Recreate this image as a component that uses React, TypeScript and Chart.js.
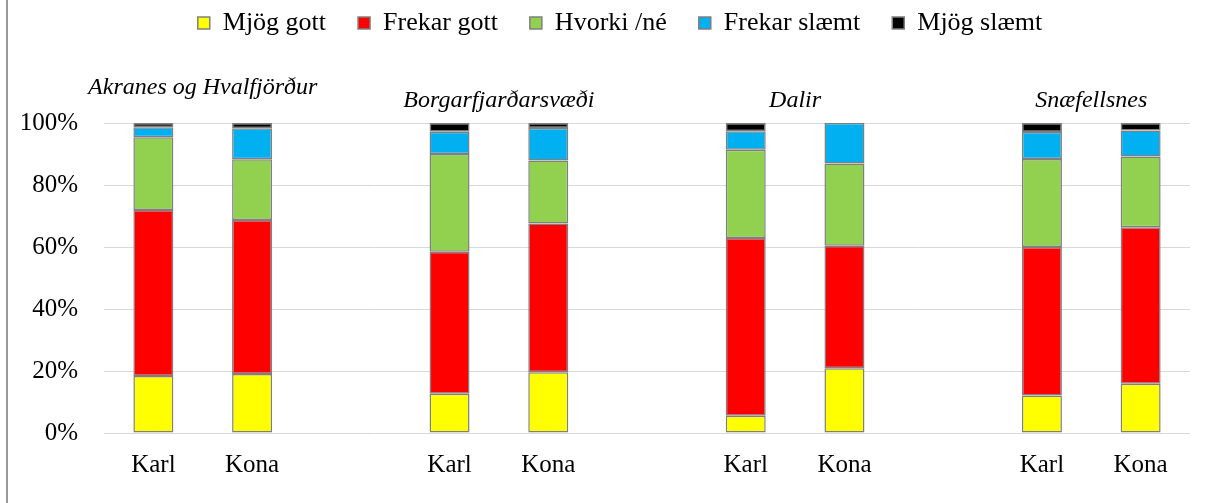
import React, { useEffect, useRef } from 'react';
import { Chart, registerables } from 'chart.js';
Chart.register(...registerables);

const categories = ['Karl', 'Kona', '', 'Karl', 'Kona', '', 'Karl', 'Kona', '', 'Karl', 'Kona'];
const groupTitles = ['Akranes og Hvalfjörður', 'Borgarfjarðarsvæði', 'Dalir', 'Snæfellsnes'];
const groupStartIndex = [0, 3, 6, 9];
const seriesNames = ['Mjög gott', 'Frekar gott', 'Hvorki /né', 'Frekar slæmt', 'Mjög slæmt'];
const mjogGott = [18.4, 19.0, null, 12.7, 19.6, null, 5.6, 20.9, null, 12.1, 15.9];
const frekarGott = [53.5, 49.7, null, 45.8, 48.0, null, 57.3, 39.5, null, 47.9, 50.5];
const hvorki = [23.5, 19.6, null, 31.5, 20.3, null, 28.5, 26.5, null, 28.4, 22.8];
const frekarSlaemt = [3.2, 10.0, null, 7.2, 10.5, null, 5.9, 13.1, null, 8.7, 8.4];
const mjogSlaemt = [1.4, 1.7, null, 2.8, 1.6, null, 2.7, 0, null, 2.9, 2.4];
const yTicks = [0, 20, 40, 60, 80, 100];

const seriesValues = [mjogGott, frekarGott, hvorki, frekarSlaemt, mjogSlaemt];
const seriesColors = ['#FFFF00', '#FF0000', '#92D050', '#00B0F0', '#000000'];
const FONT = "'Liberation Serif', 'Times New Roman', serif";
const LEGEND_SHIFT_X = 25;

const legendShiftPlugin = {
  id: 'legendShift',
  afterLayout(chart: any) {
    if (chart.legend) {
      chart.legend.left += LEGEND_SHIFT_X;
      chart.legend.right += LEGEND_SHIFT_X;
    }
  },
};

const groupTitlePlugin = {
  id: 'groupTitles',
  afterDraw(chart: any) {
    const { ctx } = chart;
    const x = chart.scales.x;
    ctx.save();
    ctx.font = `italic 24px ${FONT}`;
    ctx.fillStyle = '#000';
    ctx.textAlign = 'center';
    ctx.textBaseline = 'middle';
    groupTitles.forEach((t, i) => {
      const px = x.getPixelForValue(groupStartIndex[i] + 0.5);
      const py = i === 0 ? 88 : 101;
      ctx.fillText(t, px, py);
    });
    ctx.restore();
  },
};

export default function App() {
  const ref = useRef<HTMLCanvasElement>(null);
  useEffect(() => {
    if (!ref.current) return;
    const chart = new Chart(ref.current, {
      type: 'bar',
      data: {
        labels: categories,
        datasets: seriesNames.map((name, i) => ({
          label: name,
          data: seriesValues[i],
          backgroundColor: seriesColors[i],
          borderColor: '#7f7f7f',
          borderWidth: 1.5,
          borderSkipped: false,
          barPercentage: 0.405,
          categoryPercentage: 1,
        })),
      },
      options: {
        responsive: false,
        animation: false,
        devicePixelRatio: 1,
        layout: { padding: { left: 0, right: 16, top: -22, bottom: 0 } },
        plugins: {
          tooltip: { enabled: false },
          legend: {
            position: 'top',
            weight: 1000,
            labels: {
              boxWidth: 12,
              boxHeight: 12,
              padding: 32,
              color: '#000',
              font: { family: FONT, size: 26 },
            },
          },
          title: {
            display: true,
            text: '',
            weight: 500,
            font: { size: 10, lineHeight: 1 },
            padding: { top: 67, bottom: 0 },
          },
        },
        scales: {
          x: {
            stacked: true,
            grid: { display: false, drawTicks: false },
            border: { display: false },
            ticks: {
              color: '#000',
              font: { family: FONT, size: 25 },
              padding: 17,
              autoSkip: false,
              maxRotation: 0,
            },
            afterFit: (s: any) => {
              s.height = 70;
            },
          },
          y: {
            stacked: true,
            min: 0,
            max: 100,
            grid: { color: '#d9d9d9', lineWidth: 1, drawTicks: false },
            border: { display: false },
            afterBuildTicks: (s: any) => {
              s.ticks = yTicks.map((v) => ({ value: v }));
            },
            ticks: {
              color: '#000',
              font: { family: FONT, size: 25 },
              padding: 26,
              callback: (v: any) => `${v}%`,
            },
            afterFit: (s: any) => {
              s.width = 104;
            },
          },
        },
      },
      plugins: [legendShiftPlugin, groupTitlePlugin],
    } as any);
    return () => chart.destroy();
  }, []);
  return (
    <div style={{ position: 'absolute', left: 0, top: 0, width: 1206, height: 503, background: '#fff' }}>
      <div style={{ position: 'absolute', left: 6, top: 0, width: 2, height: 503, background: '#999' }} />
      <canvas ref={ref} width={1206} height={503} style={{ position: 'absolute', left: 0, top: 0 }} />
    </div>
  );
}
